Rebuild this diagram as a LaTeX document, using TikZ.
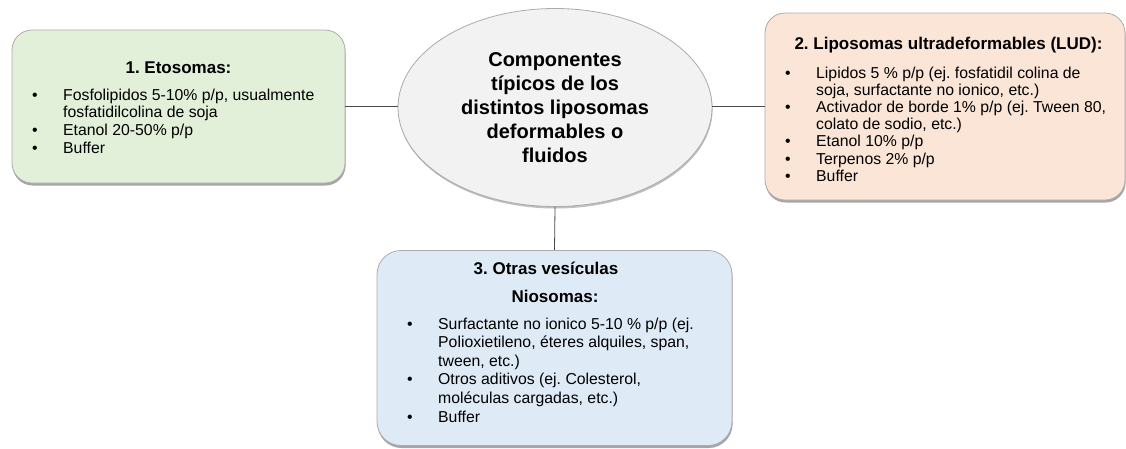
\documentclass[tikz,border=0pt]{standalone}
\usepackage{fontspec}
\setmainfont{Liberation Sans}
\usetikzlibrary{shadows,shapes.geometric}
\definecolor{gfill}{HTML}{E2F0D9}
\definecolor{pfill}{HTML}{FBE5D6}
\definecolor{bfill}{HTML}{DEEBF7}
\definecolor{efill}{HTML}{F2F2F2}
\definecolor{edgec}{HTML}{ABABAB}
\definecolor{connc}{HTML}{4A4A4A}
\newcommand\bl{\makebox[31pt][l]{•}}
\newcommand\ct{\hspace*{31pt}}
\frenchspacing
\begin{document}
\frenchspacing
\begin{tikzpicture}[x=1pt,y=-1pt,
  boxstyle/.style={rectangle, rounded corners=20pt, draw=edgec, line width=0.8pt, inner sep=0pt,
    drop shadow={shadow xshift=0.6pt, shadow yshift=-2.5pt, opacity=0.35, fill=black}},
  ellstyle/.style={ellipse, draw=edgec, line width=0.8pt, fill=efill, inner sep=0pt,
    minimum width=314pt, minimum height=198pt, align=center,
    font=\fontsize{20}{24}\selectfont\bfseries,
    drop shadow={shadow xshift=0.6pt, shadow yshift=-2pt, opacity=0.25, fill=black}},
  titlestyle/.style={anchor=base, inner sep=0pt, font=\fontsize{17}{20}\selectfont\bfseries},
  liststyle/.style={anchor=base west, inner sep=0pt, align=left},
  connstyle/.style={draw=connc, line width=0.8pt}]
\useasboundingbox (0,0) rectangle (1126,448);
\fill[white] (0,0) rectangle (1126,448);

% boxes
\node[boxstyle, fill=gfill, minimum width=333pt, minimum height=153pt] (b1) at (178.5,106.5) {};
\node[boxstyle, fill=pfill, minimum width=360pt, minimum height=187pt] (b2) at (945,106.5) {};
\node[boxstyle, fill=bfill, rounded corners=24pt, minimum width=355pt, minimum height=195pt] (b3) at (554.5,348) {};
\node[ellstyle] (c) at (555,107.5) {Componentes\\típicos de los\\distintos liposomas\\deformables o\\fluidos};

% connectors
\draw[connstyle] (b1.east) -- (c.west |- b1.east);
\draw[connstyle] (c.east |- b2.west) -- (b2.west);
\draw[connstyle] (c.south) -- (b3.north);

% box 1
\node[titlestyle] (t1) at (178.5,73) {1. Etosomas:};
\node[liststyle, font=\fontsize{15.8}{17.7}\selectfont] (l1) at (32,153.1)
  {\bl Fosfolipidos 5-10\% p/p, usualmente\\
   \ct fosfatidilcolina de soja\\
   \bl Etanol 20-50\% p/p\\
   \bl Buffer};

% box 2
\node[titlestyle] (t2) at (948.5,49) {2. Liposomas ultradeformables (LUD):};
\node[liststyle, font=\fontsize{15.8}{17.2}\selectfont] (l2) at (785,181.2)
  {\bl Lipidos 5 \% p/p (ej. fosfatidil colina de\\
   \ct soja, surfactante no ionico, etc.)\\
   \bl Activador de borde 1\% p/p (ej. Tween 80,\\
   \ct colato de sodio, etc.)\\
   \bl Etanol 10\% p/p\\
   \bl Terpenos 2\% p/p\\
   \bl Buffer};

% box 3
\node[titlestyle] (t3) at (546,274) {3. Otras vesículas};
\node[titlestyle] (t3b) at (555,302) {Niosomas:};
\node[liststyle, font=\fontsize{15.8}{18.6}\selectfont] (l3) at (407,422)
  {\bl Surfactante no ionico 5-10 \% p/p (ej.\\
   \ct Polioxietileno, éteres alquiles, span,\\
   \ct tween, etc.)\\
   \bl Otros aditivos (ej. Colesterol,\\
   \ct moléculas cargadas, etc.)\\
   \bl Buffer};
\end{tikzpicture}
\end{document}
